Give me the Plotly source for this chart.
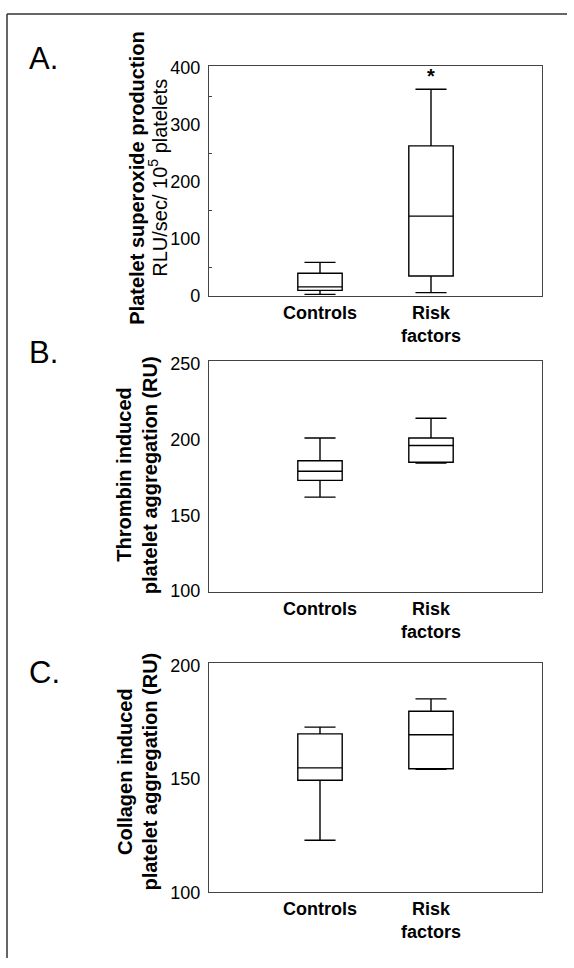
import plotly.graph_objects as go

W, H = 574, 968
FONT = "Liberation Sans"

categories = ["Controls", "Risk factors"]
cat_labels = ["<b>Controls</b>", "<b>Risk</b><br><b>factors</b>"]
cat_pos = [1, 2]

# Panel A: platelet superoxide production (RLU/sec/10^5 platelets)
a_low = [3, 6]
a_q1 = [10, 35]
a_med = [16, 140]
a_q3 = [40, 263]
a_high = [59, 362]

# Panel B: thrombin induced platelet aggregation (RU)
b_low = [162, 184.5]
b_q1 = [173, 185]
b_med = [179, 196]
b_q3 = [186, 201]
b_high = [201, 214]

# Panel C: collagen induced platelet aggregation (RU)
c_low = [123, 154.3]
c_q1 = [149.5, 154.6]
c_med = [155, 169.6]
c_q3 = [170, 180]
c_high = [173, 185.5]

a_ticks = [0, 100, 200, 300, 400]
a_minor = [50, 150, 250, 350]
b_ticks = [100, 150, 200, 250]
c_ticks = [100, 150, 200]

def px_x(p):
    return p / W

def px_y(p):
    return 1 - p / H

x_dom = [px_x(209), px_x(542)]
doms = {
    "A": [px_y(293.5), px_y(59)],
    "B": [px_y(595), px_y(360)],
    "C": [px_y(901), px_y(667.5)],
}

fig = go.Figure()

panels = [
    ("A", "x", "y", a_low, a_q1, a_med, a_q3, a_high),
    ("B", "x2", "y2", b_low, b_q1, b_med, b_q3, b_high),
    ("C", "x3", "y3", c_low, c_q1, c_med, c_q3, c_high),
]
for name, xa, ya, lo, q1, md, q3, hi in panels:
    fig.add_trace(go.Box(
        x=cat_pos, lowerfence=lo, q1=q1, median=md, q3=q3, upperfence=hi,
        xaxis=xa, yaxis=ya, width=0.4, whiskerwidth=0.7,
        fillcolor="white", line=dict(color="black", width=1.4),
        boxpoints=False, showlegend=False, hoverinfo="skip",
    ))

axis_line = dict(showline=True, linecolor="#444", linewidth=1.4, mirror=True,
                 showgrid=False, zeroline=False)

xcommon = dict(range=[0, 3], domain=x_dom, tickvals=cat_pos, ticktext=cat_labels,
               ticks="", tickfont=dict(family=FONT, size=18, color="black"), **axis_line)

fig.update_layout(
    width=W, height=H, margin=dict(l=0, r=0, t=0, b=0),
    paper_bgcolor="white", plot_bgcolor="white",
    font=dict(family=FONT, color="black"),
    xaxis=dict(anchor="y", **xcommon),
    xaxis2=dict(anchor="y2", **xcommon),
    xaxis3=dict(anchor="y3", **xcommon),
    yaxis=dict(anchor="x", domain=doms["A"], range=[0, 403], tickvals=a_ticks,
               ticks="", ticklabelstandoff=4,
               minor=dict(tickvals=a_minor, ticks="inside", ticklen=3, tickcolor="#444", tickwidth=1),
               tickfont=dict(family=FONT, size=18, color="black"), **axis_line),
    yaxis2=dict(anchor="x2", domain=doms["B"], range=[99.5, 251.5], tickvals=b_ticks,
                ticks="", ticklabelstandoff=4,
                tickfont=dict(family=FONT, size=18, color="black"), **axis_line),
    yaxis3=dict(anchor="x3", domain=doms["C"], range=[100, 201.3], tickvals=c_ticks,
                ticks="", ticklabelstandoff=4,
                tickfont=dict(family=FONT, size=18, color="black"), **axis_line),
)

ann = []
# panel letters
for letter, yc in [("A.", 51), ("B.", 351), ("C.", 677)]:
    ann.append(dict(text=letter, xref="paper", yref="paper", x=px_x(27), y=px_y(yc),
                    xanchor="left", yanchor="middle", showarrow=False,
                    font=dict(family=FONT, size=31, color="black")))

# y-axis titles
titles = [
    ("<b>Platelet superoxide production</b>", 137, 174, 20),
    ("RLU/sec/ 10<sup>5</sup> platelets", 158, 173, 20),
    ("<b>Thrombin induced</b>", 124.5, 476, 20),
    ("<b>platelet aggregation (RU)</b>", 150, 476, 20),
    ("<b>Collagen induced</b>", 124.5, 778, 20),
    ("<b>platelet aggregation (RU)</b>", 150, 778, 20),
]
for txt, xc, yc, sz in titles:
    ann.append(dict(text=txt, xref="paper", yref="paper", x=px_x(xc), y=px_y(yc),
                    xanchor="center", yanchor="middle", textangle=-90, showarrow=False,
                    font=dict(family=FONT, size=sz, color="black")))

# significance star above Risk factors in panel A
ann.append(dict(text="<b>*</b>", xref="x", yref="y", x=2, y=a_high[1],
                xanchor="center", yanchor="bottom", yshift=0, showarrow=False,
                font=dict(family=FONT, size=20, color="black")))

fig.update_layout(annotations=ann)

# outer frame (left and top)
fig.add_shape(type="line", xref="paper", yref="paper", x0=px_x(7), x1=px_x(7),
              y0=px_y(6), y1=0, line=dict(color="#333", width=1.5))
fig.add_shape(type="line", xref="paper", yref="paper", x0=px_x(7), x1=px_x(567),
              y0=px_y(6), y1=px_y(6), line=dict(color="#333", width=1.5))

fig.write_html("out.html")
